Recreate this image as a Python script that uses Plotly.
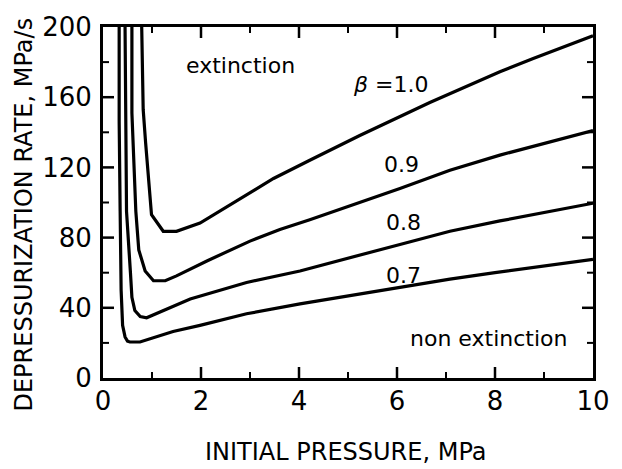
import plotly.graph_objects as go

# Curve data (initial pressure MPa, depressurization rate MPa/s)
x_b07 = [0.33, 0.33, 0.35, 0.37, 0.40, 0.45, 0.50, 0.55, 0.755, 0.96, 1.43, 1.98, 2.93, 4.02, 6.06, 7.08, 8.0, 10.0]
y_b07 = [200, 146, 95, 50, 30, 23.4, 21, 20.5, 20.5, 22.4, 26.5, 30, 36.6, 42.2, 51.6, 56.3, 60, 67.6]

x_b08 = [0.45, 0.46, 0.48, 0.56, 0.59, 0.65, 0.76, 0.89, 1.78, 2.93, 4.02, 6.06, 7.08, 8.1, 10.0]
y_b08 = [200, 150, 95, 60, 46, 38.4, 35, 34.3, 45, 54.4, 61, 76.1, 83.6, 89.5, 99.6]

x_b09 = [0.59, 0.59, 0.67, 0.73, 0.86, 1.03, 1.27, 1.5, 2.12, 3.0, 3.61, 4.22, 6.06, 7.08, 8.1, 10.0]
y_b09 = [200, 151, 95, 73, 61, 55.4, 55.4, 58.2, 66.7, 78, 84.6, 90.2, 108, 118.4, 127, 141]

x_b10 = [0.79, 0.80, 0.82, 0.87, 0.99, 1.23, 1.5, 1.98, 2.8, 3.48, 4.22, 5.24, 6.67, 8.1, 8.78, 10.0]
y_b10 = [200, 170, 153, 134, 93, 83.6, 83.6, 88.3, 102.4, 113.7, 124.1, 138.2, 157, 174.5, 182, 195]

x_ticks = [0, 2, 4, 6, 8, 10]
x_minor = [1, 3, 5, 7, 9]
y_ticks = [0, 40, 80, 120, 160, 200]
y_minor = [20, 60, 100, 140, 180]

X_RANGE = [0, 10]
Y_RANGE = [0, 200]
FONT = "DejaVu Sans"

fig = go.Figure()
for xs, ys in [(x_b07, y_b07), (x_b08, y_b08), (x_b09, y_b09), (x_b10, y_b10)]:
    fig.add_trace(go.Scatter(x=xs, y=ys, mode="lines", line=dict(color="black", width=3.2),
                             hoverinfo="skip"))

fig.update_layout(
    showlegend=False,
    xaxis=dict(range=X_RANGE, tickvals=x_ticks, ticktext=[str(v) for v in x_ticks],
               showline=True, linecolor="black", linewidth=3, mirror=True,
               ticks="", showgrid=False, zeroline=False, ticklabelstandoff=-2,
               tickfont=dict(family=FONT, size=26, color="black")),
    yaxis=dict(range=Y_RANGE, tickvals=y_ticks, ticktext=[str(v) for v in y_ticks],
               showline=True, linecolor="black", linewidth=3, mirror=True,
               ticks="", showgrid=False, zeroline=False, ticklabelstandoff=3,
               tickfont=dict(family=FONT, size=26, color="black")),
)

# inside tick marks on all four sides, positioned by the axis scales (lengths in pixels)
shapes = []
def xtick(v, length, width):
    for anchor, sign in [(Y_RANGE[0], 1), (Y_RANGE[1], -1)]:
        shapes.append(dict(type="line", xref="x", yref="y", x0=v, x1=v,
                           ysizemode="pixel", yanchor=anchor, y0=0, y1=sign * length,
                           line=dict(color="black", width=width), layer="above"))
def ytick(v, length, width):
    for anchor, sign in [(X_RANGE[0], 1), (X_RANGE[1], -1)]:
        shapes.append(dict(type="line", xref="x", yref="y", y0=v, y1=v,
                           xsizemode="pixel", xanchor=anchor, x0=0, x1=sign * length,
                           line=dict(color="black", width=width), layer="above"))
for v in x_ticks[1:-1]:
    xtick(v, 11, 2.5)
for v in x_minor:
    xtick(v, 6, 2)
for v in y_ticks[1:-1]:
    ytick(v, 11, 2.5)
for v in y_minor:
    ytick(v, 6, 2)

lab = dict(family=FONT, size=22, color="black")
annotations = [
    dict(x=2.8, y=178, text="extinction"),
    dict(x=5.86, y=167, text="<i>β</i> =1.0"),
    dict(x=6.09, y=121.5, text="0.9"),
    dict(x=6.14, y=88.7, text="0.8"),
    dict(x=6.13, y=58.2, text="0.7"),
    dict(x=7.86, y=22.6, text="non extinction"),
]
for a in annotations:
    a.update(xref="x", yref="y", showarrow=False, font=lab, xanchor="center", yanchor="middle")

annotations.append(dict(xref="paper", yref="paper", x=0.496, y=-0.212, text="INITIAL PRESSURE, MPa",
                        showarrow=False, xanchor="center", yanchor="middle",
                        font=dict(family=FONT, size=24, color="black")))
annotations.append(dict(xref="paper", yref="paper", x=-0.161, y=0.466, text="DEPRESSURIZATION RATE, MPa/s",
                        showarrow=False, xanchor="center", yanchor="middle", textangle=-90,
                        font=dict(family=FONT, size=24, color="black")))

fig.update_layout(
    width=622, height=469,
    margin=dict(l=103, r=29, t=24, b=91),
    paper_bgcolor="white", plot_bgcolor="white",
    annotations=annotations,
    shapes=shapes,
)

fig.write_html("out.html")
